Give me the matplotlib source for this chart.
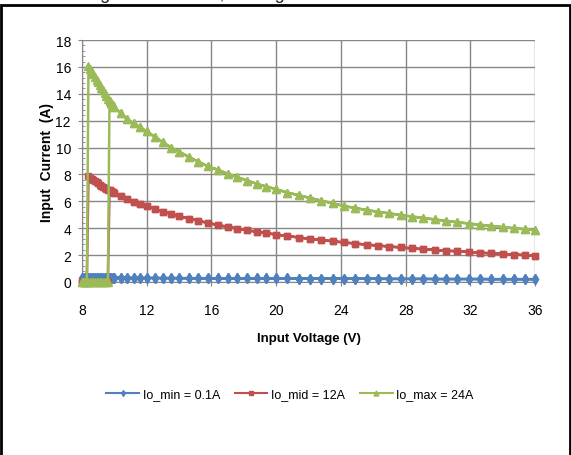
import matplotlib
matplotlib.use("Agg")
import matplotlib.pyplot as plt
from matplotlib.ticker import MultipleLocator
from matplotlib.patches import Rectangle

plt.rcParams['font.family'] = ['Liberation Sans', 'DejaVu Sans']

# sweep up: converter off below turn-on
vin_uvlo = [8.0, 8.1, 8.2, 8.3, 8.4, 8.5, 8.6, 8.7, 8.8, 8.9, 9.0, 9.1, 9.2, 9.3, 9.4, 9.5, 9.6]
vin_turnoff = [8.3, 8.2, 8.1, 8.0]

# operating points (V)
vin_on = [8.4, 8.5, 8.6, 8.7, 8.8, 8.9, 9.0, 9.1, 9.2, 9.3, 9.4, 9.5, 9.6, 9.7, 9.8, 9.9, 10.0,
          10.4, 10.8, 11.2, 11.6, 12.0, 12.5, 13.0, 13.5, 14.0, 14.6, 15.2, 15.8, 16.4, 17.0,
          17.6, 18.2, 18.8, 19.4, 20.0, 20.7, 21.4, 22.1, 22.8, 23.5, 24.2, 24.9, 25.6, 26.3,
          27.0, 27.7, 28.4, 29.1, 29.8, 30.5, 31.2, 31.9, 32.6, 33.3, 34.0, 34.7, 35.4, 36.0]

i_min = [0.33, 0.33, 0.33, 0.33, 0.33, 0.33, 0.33, 0.33, 0.33, 0.32, 0.32, 0.32, 0.32, 0.32, 0.32, 0.32, 0.32,
         0.31, 0.31, 0.30, 0.30, 0.30, 0.30, 0.29, 0.29, 0.29, 0.28, 0.28, 0.28, 0.27, 0.27,
         0.27, 0.27, 0.26, 0.26, 0.26, 0.26, 0.25, 0.25, 0.25, 0.25, 0.24, 0.24, 0.24, 0.24,
         0.23, 0.23, 0.23, 0.23, 0.22, 0.22, 0.22, 0.22, 0.22, 0.21, 0.21, 0.21, 0.21, 0.21]
i_min_uvlo = [0.33] * 17

i_mid = [7.85, 7.76, 7.67, 7.58, 7.49, 7.41, 7.33, 7.25, 7.17, 7.09, 7.02, 6.95, 6.88, 6.81, 6.75, 6.68, 6.62,
         6.39, 6.18, 5.98, 5.80, 5.64, 5.43, 5.24, 5.07, 4.90, 4.72, 4.55, 4.39, 4.24, 4.10,
         3.97, 3.85, 3.74, 3.63, 3.53, 3.42, 3.31, 3.21, 3.12, 3.03, 2.94, 2.86, 2.78, 2.71,
         2.64, 2.57, 2.50, 2.44, 2.38, 2.33, 2.28, 2.23, 2.18, 2.13, 2.09, 2.04, 2.00, 1.97]

i_max = [16.05, 15.85, 15.65, 15.45, 15.25, 15.05, 14.85, 14.65, 14.45, 14.25, 14.05, 13.85, 13.65, 13.45, 13.3, 13.15, 13.0,
         12.55, 12.1, 11.8, 11.5, 11.2, 10.8, 10.4, 10.0, 9.7, 9.3, 8.95, 8.6, 8.35, 8.05,
         7.8, 7.55, 7.3, 7.1, 6.9, 6.65, 6.45, 6.25, 6.05, 5.85, 5.65, 5.5, 5.35, 5.22,
         5.1, 4.98, 4.87, 4.76, 4.65, 4.55, 4.45, 4.35, 4.26, 4.17, 4.08, 4.0, 3.92, 3.85]

labels = ['Io_min = 0.1A', 'Io_mid = 12A', 'Io_max = 24A']
colors = ['#4F81BD', '#C0504D', '#9BBB59']
markers = ['d', 's', '^']
msizes = [5, 5, 6]


def sweep(i_on, i_off):
    # up sweep then back down, with the hysteresis of the turn-on / turn-off
    n_up = [k for k, v in enumerate(vin_on) if v >= 9.7]
    x = vin_uvlo + [vin_on[k] for k in n_up]
    y = list(i_off) + [i_on[k] for k in n_up]
    x = x + vin_on[::-1] + vin_turnoff
    y = y + i_on[::-1] + [i_off[0]] * len(vin_turnoff)
    return x, y


fig = plt.figure(figsize=(5.71, 4.56), dpi=100)
ax = fig.add_axes([0.1436, 0.3794, 0.7934, 0.5306])

series = [(i_min, i_min_uvlo), (i_mid, [0.0] * 17), (i_max, [0.0] * 17)]
for (i_on, i_off), lab, c, m, ms in zip(series, labels, colors, markers, msizes):
    x, y = sweep(i_on, i_off)
    ax.plot(x, y, color=c, lw=1.8, marker=m, ms=ms, mfc=c, mec=c, label=lab, clip_on=False, zorder=3)

ax.set_xlim(8, 36)
ax.set_ylim(0, 18)
ax.xaxis.set_major_locator(MultipleLocator(4))
ax.yaxis.set_major_locator(MultipleLocator(2))
ax.yaxis.set_minor_locator(MultipleLocator(0.4))
ax.grid(True, which='major', color='#868686', lw=1)
for s in ['top', 'right']:
    ax.spines[s].set_visible(False)
for s in ['left', 'bottom']:
    ax.spines[s].set_color('#868686')
ax.tick_params(axis='both', which='major', direction='out', length=3, color='#868686',
               labelsize=10)
ax.tick_params(axis='y', which='minor', direction='in', length=2, color='#868686')
ax.tick_params(axis='y', which='major', pad=5)
ax.tick_params(axis='x', which='major', pad=12)

ax.set_xlabel('Input Voltage (V)', fontsize=9.5, fontweight='bold', labelpad=11)
ax.set_ylabel('Input  Current  (A)', fontsize=10, fontweight='bold', labelpad=1)

handles, labs = ax.get_legend_handles_labels()
leg = fig.legend(handles, labs, loc='center', bbox_to_anchor=(0.508, 0.134), ncol=3, frameon=False,
                 fontsize=9, handlelength=2.6, columnspacing=1.2, handletextpad=0.3, markerscale=0.6)
for h in leg.legend_handles:
    h.set_linewidth(1.5)

# outer chart frame and cut-off title
fig.patches.append(Rectangle((0.001, -0.05), 0.998, 1.037,
                             transform=fig.transFigure, fill=False, ec='black', lw=2))
fig.text(0.105, 0.994, 'Voltage at Full Load, 25 degrees', fontsize=13, color='#222222',
         va='bottom')

fig.savefig('out.png', dpi=100)
